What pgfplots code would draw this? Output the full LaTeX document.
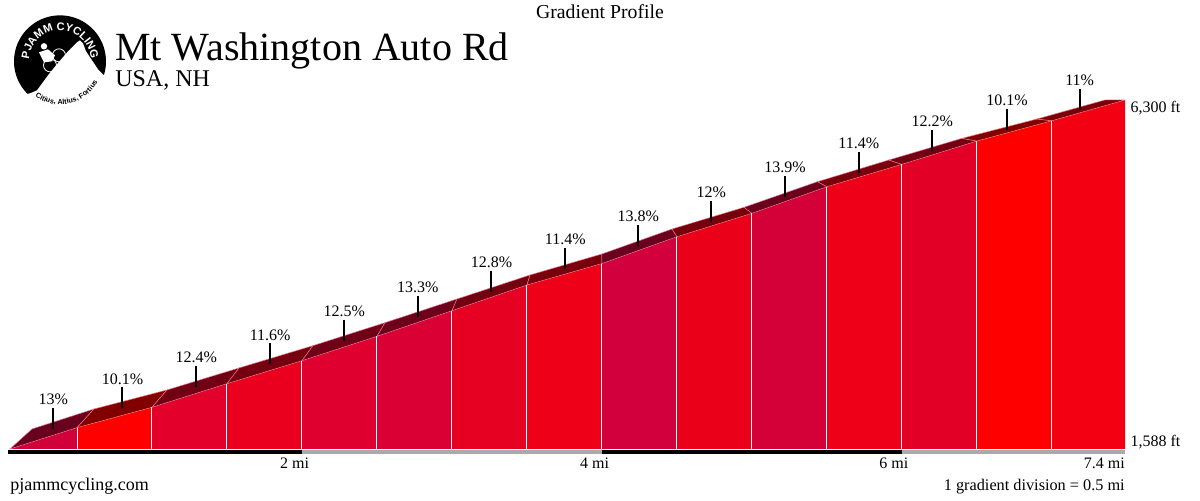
\documentclass[border=0pt]{standalone}
\usepackage{fontspec}
\setmainfont{Liberation Serif}
\newfontfamily\logofont{Liberation Sans}
\usepackage{pgfplots}
\pgfplotsset{compat=1.18}
\usepackage{pgfplotstable}
\usetikzlibrary{decorations.text}

\definecolor{gA}{HTML}{D2003A}
\definecolor{gB}{HTML}{FF0000}
\definecolor{gC}{HTML}{E3002A}
\definecolor{gD}{HTML}{EA001E}
\definecolor{gE}{HTML}{E00030}
\definecolor{gF}{HTML}{DA0034}
\definecolor{gG}{HTML}{E60022}
\definecolor{gH}{HTML}{EE0018}
\definecolor{gI}{HTML}{D2003C}
\definecolor{gJ}{HTML}{EA0018}
\definecolor{gK}{HTML}{D40038}
\definecolor{gL}{HTML}{EE0018}
\definecolor{gM}{HTML}{E30026}
\definecolor{gN}{HTML}{FF0000}
\definecolor{gO}{HTML}{F30012}
\definecolor{barg}{HTML}{AAAAAA}

% gradient label ticks: x (mi), base elevation (ft), grade (%)
\pgfplotstableread{
x y lab
0.3415 1862 13
0.803 2135 10.1
1.295 2422 12.4
1.788 2729 11.6
2.2815 3041 12.5
2.7715 3367 13.3
3.263 3702 12.8
3.755 4013 11.4
4.242 4331 13.8
4.7285 4658 12
5.221 4987 13.9
5.7125 5312 11.4
6.203 5612 12.2
6.7 5898 10.1
7.185 6166 11
}\ticks

% division separators: x (mi), height above base (ft)
\pgfplotstableread{
x h
0.5 288
1.0 563
1.5 882
2.0 1192
2.5 1521
3.0 1867
3.5 2214
4.0 2504
4.5 2866
5.0 3182
5.5 3541
6.0 3843
6.5 4158
7.0 4432
}\seps

% front face + top face of one division
\newcommand{\seg}[9]{%
  \addplot[fill=#9, draw=none] coordinates {(#1,1588) (#1,#2) (#3,#4) (#3,1588)} -- cycle;
  \addplot[fill=#9!50!black, draw=#9!55!white, line width=0.35pt] coordinates {(#1,#2) (#3,#4) (#7,#8) (#5,#6)} -- cycle;
}

\begin{document}
\begin{tikzpicture}
\useasboundingbox (0,0) rectangle (900pt,375pt);

\begin{axis}[
  at={(7.5pt,38.25pt)}, anchor=south west,
  scale only axis, width=836.25pt, height=261.75pt,
  xmin=0.0533, xmax=7.487, ymin=1588, ymax=6300,
  axis lines=none, ticks=none, clip=false,
]
\seg{0.0533}{1588}{0.5}{1876}{0.2}{1858}{0.613}{2128}{gA}
\seg{0.5}{1876}{1.0}{2151}{0.613}{2128}{1.1}{2385}{gB}
\seg{1.0}{2151}{1.5}{2470}{1.1}{2385}{1.58}{2682}{gC}
\seg{1.5}{2470}{2.0}{2780}{1.58}{2682}{2.073}{2983}{gD}
\seg{2.0}{2780}{2.5}{3109}{2.073}{2983}{2.553}{3293}{gE}
\seg{2.5}{3109}{3.0}{3455}{2.553}{3293}{3.033}{3613}{gF}
\seg{3.0}{3455}{3.5}{3802}{3.033}{3613}{3.52}{3937}{gG}
\seg{3.5}{3802}{4.0}{4092}{3.52}{3937}{4.0}{4221}{gH}
\seg{4.0}{4092}{4.5}{4454}{4.0}{4221}{4.467}{4558}{gI}
\seg{4.5}{4454}{5.0}{4770}{4.467}{4558}{4.947}{4851}{gJ}
\seg{5.0}{4770}{5.5}{5129}{4.947}{4851}{5.437}{5197}{gK}
\seg{5.5}{5129}{6.0}{5431}{5.437}{5197}{5.913}{5490}{gL}
\seg{6.0}{5431}{6.5}{5746}{5.913}{5490}{6.4}{5782}{gM}
\seg{6.5}{5746}{7.0}{6020}{6.4}{5782}{6.9}{6043}{gN}
\seg{7.0}{6020}{7.487}{6300}{6.9}{6043}{7.353}{6300}{gO}

% white division lines
\addplot[white, line width=0.75pt, quiver={u=0, v=\thisrow{h}}] table[x=x, y expr=1588] {\seps};

% gradient ticks and labels
\addplot[black, line width=1.5pt, quiver={u=0, v=285}] table[x=x, y=y] {\ticks};
\addplot[draw=none, mark=none, point meta=explicit symbolic,
  nodes near coords={\pgfplotspointmeta\%},
  nodes near coords style={anchor=base, yshift=2.5pt, inner sep=0pt, text=black, font=\fontsize{12}{14}\selectfont}]
  table[x=x, y expr=\thisrow{y}+285, meta=lab] {\ticks};

% distance bar
\addplot[black, line width=3pt] coordinates {(0.04,1547.5) (2,1547.5)};
\addplot[barg, line width=3pt] coordinates {(2,1547.5) (4,1547.5)};
\addplot[black, line width=3pt] coordinates {(4,1547.5) (6,1547.5)};
\addplot[barg, line width=3pt] coordinates {(6,1547.5) (7.487,1547.5)};

\node[anchor=base east, inner sep=0pt, font=\fontsize{12}{14}\selectfont, xshift=5.5pt, yshift=-14.25pt] at (axis cs:2,1588) {2 mi};
\node[anchor=base east, inner sep=0pt, font=\fontsize{12}{14}\selectfont, xshift=5.5pt, yshift=-14.25pt] at (axis cs:4,1588) {4 mi};
\node[anchor=base east, inner sep=0pt, font=\fontsize{12}{14}\selectfont, xshift=5pt, yshift=-14.25pt] at (axis cs:6,1588) {6 mi};
\node[anchor=base east, inner sep=0pt, font=\fontsize{12}{14}\selectfont, yshift=-14.25pt] at (axis cs:7.487,1588) {7.4 mi};

\node[anchor=base west, inner sep=0pt, font=\fontsize{12}{14}\selectfont, xshift=4pt, yshift=-9.75pt] at (axis cs:7.487,6300) {6,300 ft};
\node[anchor=base west, inner sep=0pt, font=\fontsize{12}{14}\selectfont, xshift=4pt, yshift=1.5pt] at (axis cs:7.487,1588) {1,588 ft};
\end{axis}

% titles and footers (pixel coordinates, y downwards)
\begin{scope}[x=0.75pt, y=-0.75pt, shift={(0pt,375pt)}]
\node[anchor=base, inner sep=0pt, font=\fontsize{14.8}{17}\selectfont] at (600,19) {Gradient Profile};
\node[anchor=base west, inner sep=0pt, font=\fontsize{30}{36}\selectfont] at (115,61) {Mt Washington Auto Rd};
\node[anchor=base west, inner sep=0pt, font=\fontsize{18}{22}\selectfont] at (115,87) {USA, NH};
\node[anchor=base west, inner sep=0pt, font=\fontsize{13.5}{16}\selectfont] at (10,490) {pjammcycling.com};
\node[anchor=base east, inner sep=0pt, font=\fontsize{12.2}{15}\selectfont] at (1125,490) {1 gradient division = 0.5 mi};
\end{scope}

% logo
\begin{scope}[shift={(45pt,329pt)}, x=0.75pt, y=0.75pt]
\fill[black] (0,0) circle[radius=46];
\begin{scope}
\clip (0,0) circle[radius=46.5];
\fill[white] (-50,-36) -- (-30,-32) -- (-23,-29) -- (-12,-14) -- (-4,-4) -- (8,10) -- (17,19) -- (20,21) -- (23,18) -- (26,10) -- (30,4) -- (38,-8) -- (50,-20) -- (50,-60) -- (-50,-60) -- cycle;
\end{scope}
\draw[white, line width=0.6pt] (-10,-4) circle[radius=6.5];
\draw[white, line width=0.6pt] (-1,6) circle[radius=6.5];
\fill[white] (-16,15) circle[radius=3.2];
\fill[white] (-21,9) -- (-12,12) -- (-5,6) -- (-8,0) -- (-16,-1) -- cycle;
\path[decorate, decoration={text along path, text align=center, text color=white,
  text={|\logofont\bfseries\fontsize{8.3}{9}\selectfont|PJAMM CYCLING}}]
  (178:31) arc[start angle=178, end angle=2, radius=31];
\path[decorate, decoration={text along path, text align=center, text color=black,
  text={|\logofont\bfseries\fontsize{5.4}{6}\selectfont|Citius, Altius, Fortius}}]
  (226:43) arc[start angle=226, end angle=340, radius=43];
\end{scope}
\end{tikzpicture}
\end{document}
